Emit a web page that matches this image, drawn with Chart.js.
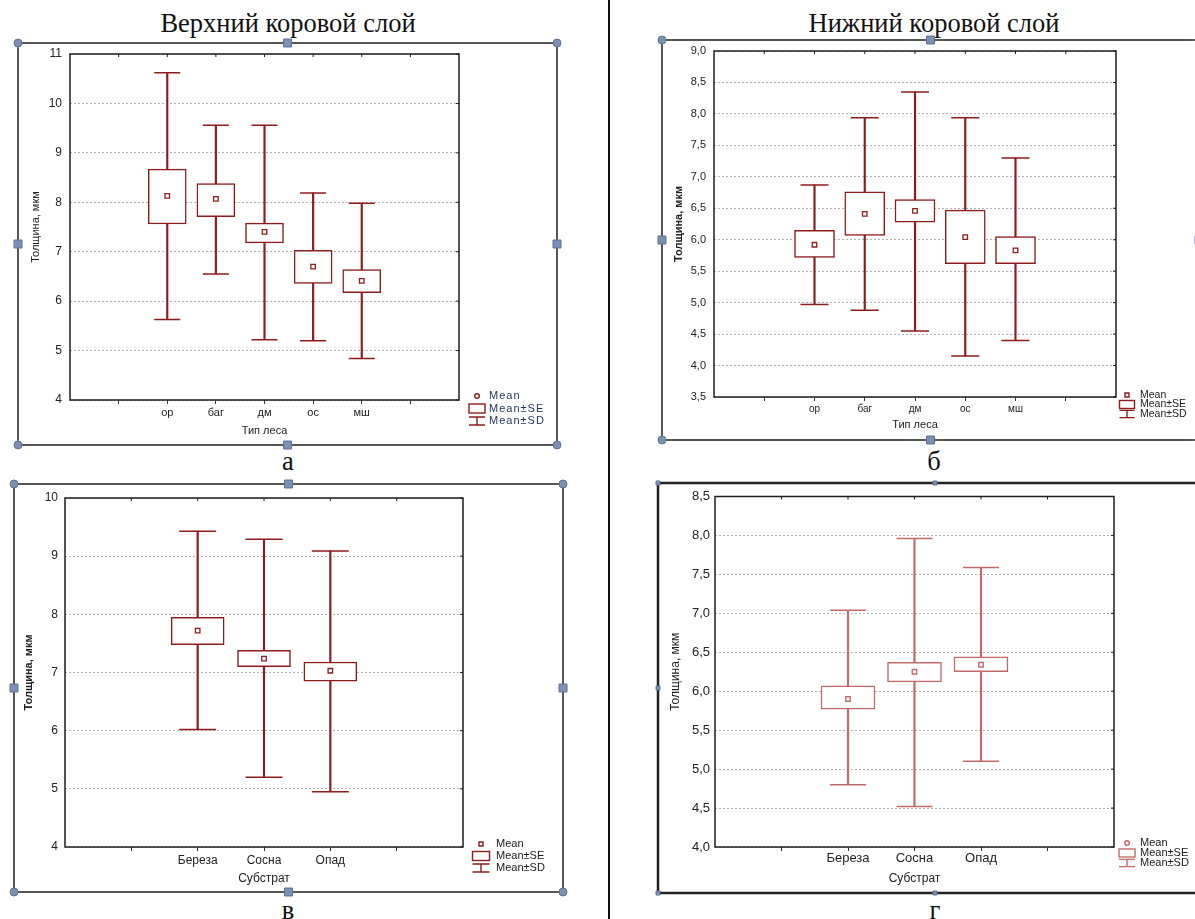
<!DOCTYPE html>
<html>
<head>
<meta charset="utf-8">
<script src="https://cdn.jsdelivr.net/npm/chart.js@4.4.0/dist/chart.umd.min.js"></script>
<style>
  body { margin: 0; width: 1195px; height: 919px; overflow: hidden; background: #fff; position: relative; }
  .cap { position: absolute; font-family: "Liberation Serif", "Times New Roman", serif; font-size: 26.5px;
         line-height: 1; color: #111; transform: translateX(-50%); white-space: nowrap; }
  canvas { position: absolute; }
  #divider { position: absolute; left: 608px; top: 0; width: 2px; height: 919px; background: #111; }
</style>
</head>
<body>
<div class="cap" style="left:288px; top:10px">Верхний коровой слой</div>
<div class="cap" style="left:934px; top:10px">Нижний коровой слой</div>
<div class="cap" style="left:288px; top:448px">а</div>
<div class="cap" style="left:934px; top:448px">б</div>
<div class="cap" style="left:288px; top:897px">в</div>
<div class="cap" style="left:935px; top:897px">г</div>
<div id="divider"></div>

<canvas id="chartA"></canvas>
<canvas id="chartB"></canvas>
<canvas id="chartC"></canvas>
<canvas id="chartD"></canvas>

<script>
// --- data: forest type (а, б) ---
const forestTypes = ['ор', 'баг', 'дм', 'ос', 'мш'];

const upperMean   = [8.13, 8.07, 7.40, 6.70, 6.41];
const upperSeLow  = [7.56, 7.71, 7.18, 6.36, 6.17];
const upperSeHigh = [8.67, 8.38, 7.58, 7.03, 6.64];
const upperSdLow  = [5.63, 6.55, 5.22, 5.20, 4.84];
const upperSdHigh = [10.62, 9.56, 9.56, 8.19, 7.98];

const lowerMean   = [5.92, 6.41, 6.46, 6.04, 5.83];
const lowerSeLow  = [5.72, 6.07, 6.28, 5.62, 5.62];
const lowerSeHigh = [6.15, 6.76, 6.64, 6.47, 6.05];
const lowerSdLow  = [4.97, 4.88, 4.55, 4.15, 4.40];
const lowerSdHigh = [6.87, 7.94, 8.35, 7.94, 7.30];

// --- data: substrate (в, г) ---
const substrates = ['Береза', 'Сосна', 'Опад'];

const subUpperMean   = [7.72, 7.24, 7.03];
const subUpperSeLow  = [7.48, 7.10, 6.85];
const subUpperSeHigh = [7.95, 7.38, 7.18];
const subUpperSdLow  = [6.02, 5.20, 4.95];
const subUpperSdHigh = [9.43, 9.29, 9.09];

const subLowerMean   = [5.90, 6.25, 6.34];
const subLowerSeLow  = [5.77, 6.12, 6.25];
const subLowerSeHigh = [6.07, 6.37, 6.44];
const subLowerSdLow  = [4.80, 4.52, 5.10];
const subLowerSdHigh = [7.04, 7.96, 7.59];

// y axis ranges (min, max, step)
const upperAxis    = [4, 11, 1];
const lowerAxis    = [3.5, 9, 0.5];
const subUpperAxis = [4, 10, 1];
const subLowerAxis = [4, 8.5, 0.5];

const legendLabels = ['Mean', 'Mean±SE', 'Mean±SD'];

const DARK_RED = '#8d1c1c';
const LIGHT_RED = '#c26a6a';

function pad(arr, fill) {
    return [fill, fill, ...arr, fill, fill];
}

function commaFmt(v) {
    return v.toFixed(1).replace('.', ',');
}

// draws the outer selection frame, plot border, inner ticks and legend
const panelPlugin = {
    id: 'panel',
    beforeDraw(chart, args, o) {
        const ctx = chart.ctx;
        const w = chart.width, h = chart.height, m = o.inset;
        ctx.save();
        ctx.strokeStyle = o.frameColor;
        ctx.lineWidth = o.frameWidth;
        ctx.strokeRect(m, m, w - 2 * m, h - 2 * m);
        const xs = [m, w / 2, w - m], ys = [m, h / 2, h - m];
        ctx.fillStyle = o.handleFill;
        ctx.strokeStyle = o.handleStroke;
        ctx.lineWidth = 1;
        xs.forEach((x, i) => ys.forEach((y, j) => {
            if (i === 1 && j === 1) return;
            const corner = i !== 1 && j !== 1;
            ctx.beginPath();
            if (corner && o.round) {
                ctx.arc(x, y, o.handle / 2, 0, Math.PI * 2);
            } else {
                ctx.rect(x - o.handle / 2, y - o.handle / 2, o.handle, o.handle);
            }
            ctx.fill();
            ctx.stroke();
        }));
        ctx.restore();
    },
    afterDraw(chart, args, o) {
        const ctx = chart.ctx;
        const a = chart.chartArea;
        const xs = chart.scales.x, ys = chart.scales.y;
        ctx.save();
        ctx.strokeStyle = '#1e1e1e';
        ctx.lineWidth = 1.5;
        ctx.strokeRect(a.left, a.top, a.right - a.left, a.bottom - a.top);

        // little inner ticks on top and right borders
        ctx.lineWidth = 1;
        ctx.beginPath();
        for (let i = 1; i < xs.ticks.length - 1; i++) {
            const x = xs.getPixelForTick(i);
            ctx.moveTo(x, a.top);
            ctx.lineTo(x, a.top + 3);
        }
        ys.ticks.forEach((t) => {
            const y = ys.getPixelForValue(t.value);
            ctx.moveTo(a.right, y);
            ctx.lineTo(a.right - 3, y);
        });
        ctx.stroke();

        // legend
        const L = o.legend;
        const cx = L.x - o.left;
        const y0 = L.y - o.top;
        ctx.strokeStyle = o.color;
        ctx.lineWidth = 1.4;
        ctx.beginPath();
        if (L.circle) {
            ctx.arc(cx, y0, 2.3, 0, Math.PI * 2);
        } else {
            ctx.rect(cx - 2, y0 - 2, 4, 4);
        }
        ctx.stroke();
        const y1 = y0 + L.dy;
        ctx.strokeRect(cx - L.bw / 2, y1 - L.bh / 2, L.bw, L.bh);
        const y2 = y0 + 2 * L.dy;
        const wh = L.bh * 0.45;
        ctx.beginPath();
        ctx.moveTo(cx - L.bw / 2, y2 - wh);
        ctx.lineTo(cx + L.bw / 2, y2 - wh);
        ctx.moveTo(cx, y2 - wh);
        ctx.lineTo(cx, y2 + wh);
        ctx.moveTo(cx - L.bw / 2, y2 + wh);
        ctx.lineTo(cx + L.bw / 2, y2 + wh);
        ctx.stroke();

        ctx.fillStyle = L.textColor;
        ctx.font = L.font;
        ctx.letterSpacing = L.spacing || '0px';
        ctx.textBaseline = 'middle';
        ctx.textAlign = 'left';
        legendLabels.forEach((t, i) => ctx.fillText(t, L.tx - o.left, y0 + i * L.dy));
        ctx.restore();
    }
};

function makePanel(id, p) {
    const inset = 6;
    const left = p.frame[0] - inset, top = p.frame[1] - inset;
    const width = p.frame[2] - p.frame[0] + 2 * inset;
    const height = p.frame[3] - p.frame[1] + 2 * inset;
    const canvas = document.getElementById(id);
    canvas.style.left = left + 'px';
    canvas.style.top = top + 'px';
    canvas.width = width;
    canvas.height = height;

    const labels = pad(p.cats, '');
    const n = labels.length;
    const yAxisWidth = p.plot[0] - left;
    const xAxisHeight = top + height - p.plot[3];

    return new Chart(canvas.getContext('2d'), {
        type: 'bar',
        data: {
            labels: labels,
            datasets: [
                {
                    type: 'line', label: 'Mean', data: pad(p.mean, null), showLine: false,
                    pointStyle: 'rect', pointRadius: 3.2, pointBackgroundColor: '#fff',
                    pointBorderColor: p.color, pointBorderWidth: 1.3, order: 0
                },
                {
                    label: 'Mean±SE', data: pad(p.seLow.map((v, i) => [v, p.seHigh[i]]), null),
                    backgroundColor: '#fff', borderColor: p.color, borderWidth: 1.5,
                    borderSkipped: false, barThickness: p.box, grouped: false, order: 1
                },
                {
                    type: 'line', label: 'SD high', data: pad(p.sdHigh, null), showLine: false,
                    pointStyle: 'line', pointRadius: p.cap / 2, pointBorderColor: p.color,
                    pointBorderWidth: 1.5, order: 2
                },
                {
                    type: 'line', label: 'SD low', data: pad(p.sdLow, null), showLine: false,
                    pointStyle: 'line', pointRadius: p.cap / 2, pointBorderColor: p.color,
                    pointBorderWidth: 1.5, order: 2
                },
                {
                    label: 'Mean±SD', data: pad(p.sdLow.map((v, i) => [v, p.sdHigh[i]]), null),
                    backgroundColor: p.color, borderWidth: 0, barThickness: 1.5,
                    grouped: false, order: 3
                }
            ]
        },
        options: {
            responsive: false,
            animation: false,
            events: [],
            layout: {
                padding: { left: 0, top: p.plot[1] - top, right: left + width - p.plot[2], bottom: 0 }
            },
            plugins: {
                legend: { display: false },
                tooltip: { enabled: false },
                panel: {
                    inset: inset, left: left, top: top, color: p.color,
                    frameColor: p.frameColor, frameWidth: p.frameWidth,
                    handle: p.handle, round: p.round,
                    handleFill: '#7b90b3', handleStroke: '#5d7499',
                    legend: p.legend
                }
            },
            scales: {
                x: {
                    type: 'category',
                    offset: false,
                    afterFit: (s) => { s.height = xAxisHeight; },
                    border: { display: false },
                    grid: {
                        offset: false, drawOnChartArea: false, drawTicks: true, tickLength: 4,
                        color: (c) => (c.index === 0 || c.index === n - 1) ? 'rgba(0,0,0,0)' : '#333'
                    },
                    ticks: {
                        autoSkip: false, maxRotation: 0, padding: p.xTickPad,
                        color: '#222', font: p.xTickFont
                    },
                    title: {
                        display: true, text: p.xTitle, color: '#222', font: p.xTitleFont,
                        padding: { top: 0, bottom: p.xTitlePad }
                    }
                },
                y: {
                    min: p.axis[0], max: p.axis[1],
                    afterFit: (s) => { s.width = yAxisWidth; },
                    border: { display: false, dash: [2, 2] },
                    grid: { drawTicks: false, color: '#b2b2b2', lineWidth: 1 },
                    ticks: {
                        stepSize: p.axis[2], padding: p.yTickPad, color: '#222', font: p.yTickFont,
                        callback: p.comma ? (v) => commaFmt(v) : (v) => String(v)
                    },
                    title: {
                        display: true, text: 'Толщина, мкм', color: '#222', font: p.yTitleFont,
                        padding: { top: p.yTitlePad, bottom: 0 }
                    }
                }
            }
        },
        plugins: [panelPlugin]
    });
}

const sans = 'Liberation Sans';
const narrow = "'Liberation Sans Narrow', 'Liberation Sans'";

makePanel('chartA', {
    cats: forestTypes, mean: upperMean, seLow: upperSeLow, seHigh: upperSeHigh,
    sdLow: upperSdLow, sdHigh: upperSdHigh, axis: upperAxis, comma: false,
    color: DARK_RED, box: 38, cap: 26,
    frame: [18, 43, 557, 445], plot: [70, 54, 459, 400],
    frameColor: '#555', frameWidth: 2, handle: 8, round: true,
    xTitle: 'Тип леса', xTitleFont: { family: sans, size: 11 }, xTitlePad: 13,
    xTickFont: { family: sans, size: 11 }, xTickPad: 2,
    yTickFont: { family: sans, size: 12 }, yTickPad: 8,
    yTitleFont: { family: sans, size: 11 }, yTitlePad: 17,
    legend: { x: 477, y: 396, dy: 12.5, bw: 16, bh: 9, tx: 489,
              font: '11px ' + sans, spacing: '1px', textColor: '#25365a', circle: true }
});

makePanel('chartB', {
    cats: forestTypes, mean: lowerMean, seLow: lowerSeLow, seHigh: lowerSeHigh,
    sdLow: lowerSdLow, sdHigh: lowerSdHigh, axis: lowerAxis, comma: true,
    color: DARK_RED, box: 40, cap: 28,
    frame: [662, 40, 1199, 440], plot: [714, 51, 1116, 397],
    frameColor: '#555', frameWidth: 2, handle: 8, round: true,
    xTitle: 'Тип леса', xTitleFont: { family: sans, size: 11 }, xTitlePad: 14,
    xTickFont: { family: sans, size: 10 }, xTickPad: 2,
    yTickFont: { family: sans, size: 11 }, yTickPad: 8,
    yTitleFont: { family: sans, size: 11, weight: 'bold' }, yTitlePad: 16,
    legend: { x: 1127, y: 395, dy: 9.5, bw: 15, bh: 8, tx: 1140,
              font: '10.5px ' + sans, textColor: '#1a1a1a', circle: false }
});

makePanel('chartC', {
    cats: substrates, mean: subUpperMean, seLow: subUpperSeLow, seHigh: subUpperSeHigh,
    sdLow: subUpperSdLow, sdHigh: subUpperSdHigh, axis: subUpperAxis, comma: false,
    color: DARK_RED, box: 53, cap: 37,
    frame: [14, 484, 563, 892], plot: [65, 496, 463, 847],
    frameColor: '#555', frameWidth: 2, handle: 8, round: true,
    xTitle: 'Субстрат', xTitleFont: { family: narrow, size: 12 }, xTitlePad: 12,
    xTickFont: { family: narrow, size: 12 }, xTickPad: 2,
    yTickFont: { family: narrow, size: 12 }, yTickPad: 7,
    yTitleFont: { family: sans, size: 11, weight: 'bold' }, yTitlePad: 14,
    legend: { x: 481, y: 844, dy: 12, bw: 17, bh: 9, tx: 496,
              font: '11px ' + narrow, textColor: '#1a1a1a', circle: false }
});

makePanel('chartD', {
    cats: substrates, mean: subLowerMean, seLow: subLowerSeLow, seHigh: subLowerSeHigh,
    sdLow: subLowerSdLow, sdHigh: subLowerSdHigh, axis: subLowerAxis, comma: true,
    color: LIGHT_RED, box: 54, cap: 36,
    frame: [658, 483, 1212, 893], plot: [715, 496, 1114, 847],
    frameColor: '#222', frameWidth: 2.5, handle: 4, round: false,
    xTitle: 'Субстрат', xTitleFont: { family: narrow, size: 12 }, xTitlePad: 13,
    xTickFont: { family: narrow, size: 13 }, xTickPad: 0,
    yTickFont: { family: narrow, size: 13 }, yTickPad: 5,
    yTitleFont: { family: sans, size: 12 }, yTitlePad: 16,
    legend: { x: 1127, y: 843, dy: 10, bw: 16, bh: 8, tx: 1140,
              font: '11px ' + narrow, textColor: '#1a1a1a', circle: true }
});
</script>
</body>
</html>
